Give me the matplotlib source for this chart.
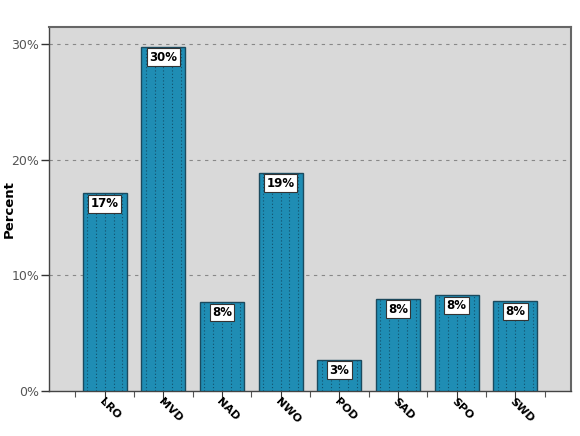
import numpy as np
import matplotlib
matplotlib.use("Agg")
import matplotlib.pyplot as plt
from matplotlib.ticker import FuncFormatter

categorias = ["LRO", "MVD", "NAD", "NWO", "POD", "SAD", "SPO", "SWD"]
porcentajes = [17.1, 29.8, 7.7, 18.9, 2.7, 8.0, 8.3, 7.8]
etiquetas = ["17%", "30%", "8%", "19%", "3%", "8%", "8%", "8%"]

fig = plt.figure(figsize=(5.8, 4.36), dpi=100)
ax = fig.add_axes([0.0845, 0.1032, 0.9, 0.835])
ax.set_facecolor("#d9d9d9")

x = np.arange(len(categorias))
barras = ax.bar(x, porcentajes, width=0.75, color="#1f8db4", edgecolor="#1b4a5e", linewidth=1.0, zorder=3)

# lineas punteadas dentro de las barras
for b in barras:
    x0, w, h = b.get_x(), b.get_width(), b.get_height()
    for f in [0.1, 0.3, 0.5, 0.7, 0.9]:
        ax.vlines(x0 + f * w, 0, h, colors="#124f6a", linestyles=(0, (1, 2)), linewidth=0.8, zorder=4)

# etiquetas de porcentaje
for b, t in zip(barras, etiquetas):
    ax.text(b.get_x() + b.get_width() / 2, b.get_height() - 0.35, t, ha="center", va="top",
            fontsize=8.5, fontweight="bold", color="black", zorder=5,
            bbox=dict(boxstyle="square,pad=0.2", facecolor="white", edgecolor="#333333", linewidth=0.8))

ax.set_xlim(-0.95, 7.95)
ax.set_ylim(0, 31.5)
ax.set_yticks([0, 10, 20, 30])
ax.yaxis.set_major_formatter(FuncFormatter(lambda v, p: "%d%%" % v))
for yv in [10, 20, 30]:
    ax.axhline(yv, color="#888888", linestyle=(0, (3, 4)), linewidth=0.8, zorder=1)

ax.set_xticks(x)
ax.set_xticks(np.arange(-0.5, len(categorias), 1.0), minor=True)
ax.set_xticklabels(categorias, rotation=-45, ha="left", va="top", rotation_mode="anchor",
                   fontsize=8, fontweight="bold")
ax.tick_params(axis="x", which="major", length=9, width=0.8, color="#333333", pad=-5)
ax.tick_params(axis="x", which="minor", length=4, width=0.8, color="#555555")
ax.tick_params(axis="y", length=6, width=1, color="#333333", labelsize=9, labelcolor="#555555", pad=1)

ax.set_ylabel("Percent", fontsize=9.5, fontweight="bold")
ax.yaxis.set_label_coords(-0.064, 0.5)

for s in ["top", "right"]:
    ax.spines[s].set_color("#666666")
    ax.spines[s].set_linewidth(1.5)
for s in ["left", "bottom"]:
    ax.spines[s].set_color("#444444")
    ax.spines[s].set_linewidth(1.0)

plt.savefig("out.png", dpi=100)
